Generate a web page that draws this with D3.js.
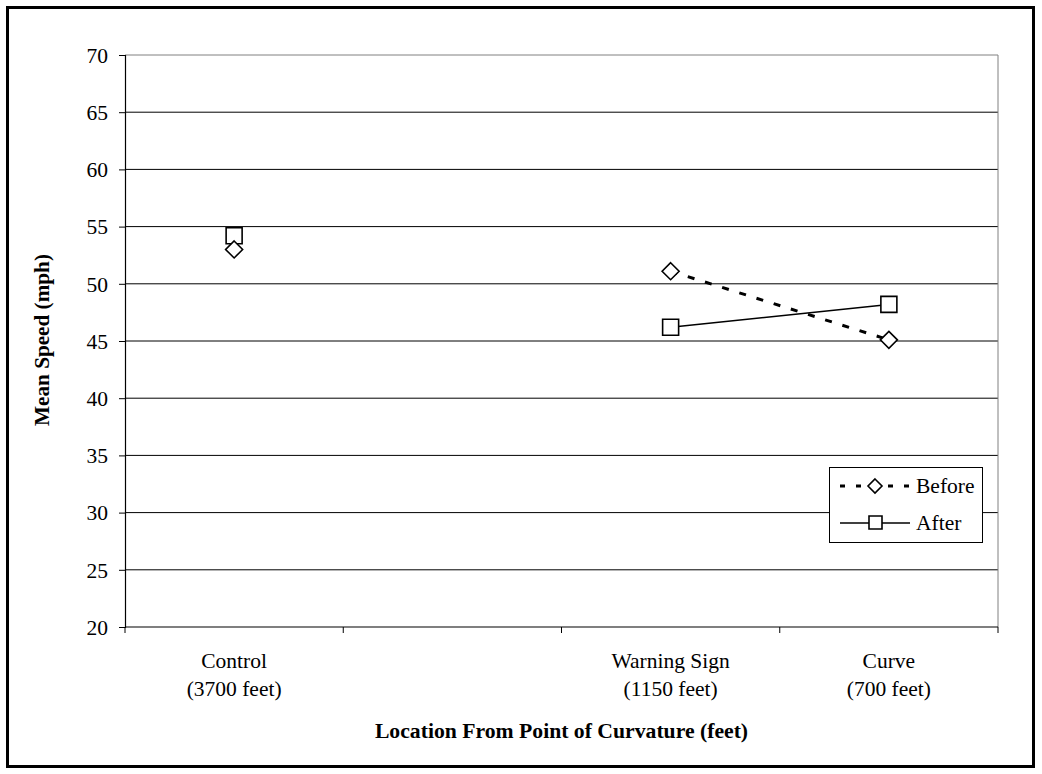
<!DOCTYPE html>
<html><head><meta charset="utf-8">
<script src="https://cdn.jsdelivr.net/npm/d3@7"></script>
<style>body{margin:0;background:#fff}</style>
</head><body>
<svg id="c" width="1042" height="774"></svg>
<script>
const categories = ["Control", "", "Warning Sign", "Curve"];
const categorySub = ["(3700 feet)", "", "(1150 feet)", "(700 feet)"];
const beforeValues = [53.0, null, 51.1, 45.1];
const afterValues = [54.2, null, 46.2, 48.2];
const yTicks = [20, 25, 30, 35, 40, 45, 50, 55, 60, 65, 70];

const svg = d3.select("#c");
const font = "Liberation Serif, Times New Roman, serif";
const FS = 21.5;
svg.append("rect").attr("x", 7.5).attr("y", 7.5).attr("width", 1026).attr("height", 759)
  .attr("fill", "#fff").attr("stroke", "#000").attr("stroke-width", 3);

const L = 125, R = 998, T = 55, B = 627;
const x = d3.scaleBand().domain(d3.range(categories.length)).range([L, R]).padding(0);
const y = d3.scaleLinear().domain([20, 70]).range([B, T]);

// gridlines
svg.append("g").selectAll("line").data(yTicks.filter(t => t > 20)).join("line")
  .attr("x1", L).attr("x2", R).attr("y1", d => y(d)).attr("y2", d => y(d))
  .attr("stroke", d => d === 70 ? "#808080" : "#000").attr("stroke-width", 1);
// right border
svg.append("line").attr("x1", R).attr("x2", R).attr("y1", T).attr("y2", B)
  .attr("stroke", "#808080").attr("stroke-width", 1);

// y axis
const ya = svg.append("g").attr("transform", `translate(${L},0)`)
  .call(d3.axisLeft(y).tickValues(yTicks).tickSize(6).tickPadding(11).tickFormat(d3.format("d")));
ya.select(".domain").attr("stroke", "#000").attr("stroke-width", 1.2);
ya.selectAll(".tick line").attr("stroke", "#000");
ya.selectAll("text").attr("font-family", font).attr("font-size", FS).attr("fill", "#000").attr("dy", "0.34em");

// x axis with ticks at band edges
const xa = svg.append("g").attr("transform", `translate(0,${B})`);
xa.append("line").attr("x1", L).attr("x2", R).attr("stroke", "#000").attr("stroke-width", 1.2);
const edges = d3.range(categories.length + 1).map(i => L + i * x.bandwidth());
xa.selectAll(".tk").data(edges).join("line").attr("class", "tk")
  .attr("x1", d => d).attr("x2", d => d).attr("y1", 0).attr("y2", 6).attr("stroke", "#000");
const lab = xa.selectAll(".lab").data(categories).join("text").attr("class", "lab")
  .attr("x", (d, i) => x(i) + x.bandwidth() / 2).attr("text-anchor", "middle")
  .attr("font-family", font).attr("font-size", FS).attr("fill", "#000");
lab.append("tspan").attr("x", (d, i) => x(i) + x.bandwidth() / 2).attr("y", 41).text(d => d);
lab.append("tspan").attr("x", (d, i) => x(i) + x.bandwidth() / 2).attr("y", 69).text((d, i) => categorySub[i]);

// axis titles
svg.append("text").attr("x", (L + R) / 2).attr("y", 738).attr("text-anchor", "middle")
  .attr("font-family", font).attr("font-size", 21.7).attr("font-weight", "bold")
  .text("Location From Point of Curvature (feet)");
svg.append("text").attr("transform", `translate(49,${(T + B) / 2 - 1}) rotate(-90)`).attr("text-anchor", "middle")
  .attr("font-family", font).attr("font-size", 21.2).attr("font-weight", "bold")
  .text("Mean Speed (mph)");

const cx = i => x(i) + x.bandwidth() / 2;
const line = d3.line().defined(d => d != null).x((d, i) => cx(i)).y(d => y(d));

svg.append("path").attr("d", line(beforeValues)).attr("fill", "none").attr("stroke", "#000")
  .attr("stroke-width", 3).attr("stroke-dasharray", "7,11");
svg.append("path").attr("d", line(afterValues)).attr("fill", "none").attr("stroke", "#000")
  .attr("stroke-width", 1.5);

const diamond = (cxp, cyp, r) => `M${cxp},${cyp - r}L${cxp + r},${cyp}L${cxp},${cyp + r}L${cxp - r},${cyp}Z`;
svg.append("g").selectAll("path").data(afterValues.map((v, i) => [v, i]).filter(d => d[0] != null)).join("path")
  .attr("d", d => { const a = cx(d[1]), b = y(d[0]); return `M${a - 8},${b - 8}h16v16h-16Z`; })
  .attr("fill", "#fff").attr("stroke", "#000").attr("stroke-width", 1.6);
svg.append("g").selectAll("path").data(beforeValues.map((v, i) => [v, i]).filter(d => d[0] != null)).join("path")
  .attr("d", d => diamond(cx(d[1]), y(d[0]), 8.5))
  .attr("fill", "#fff").attr("stroke", "#000").attr("stroke-width", 1.6);

// legend
const lg = svg.append("g");
lg.append("rect").attr("x", 829.5).attr("y", 467.5).attr("width", 153).attr("height", 75)
  .attr("fill", "#fff").attr("stroke", "#000").attr("stroke-width", 1);
lg.append("line").attr("x1", 840).attr("x2", 909).attr("y1", 486).attr("y2", 486)
  .attr("stroke", "#000").attr("stroke-width", 3).attr("stroke-dasharray", "5,11");
lg.append("path").attr("d", diamond(875, 486, 7)).attr("fill", "#fff").attr("stroke", "#000").attr("stroke-width", 1.6);
lg.append("line").attr("x1", 840).attr("x2", 910).attr("y1", 523).attr("y2", 523)
  .attr("stroke", "#000").attr("stroke-width", 1.5);
lg.append("path").attr("d", "M869,516h13v13h-13Z").attr("fill", "#fff").attr("stroke", "#000").attr("stroke-width", 1.6);
lg.append("text").attr("x", 916).attr("y", 493).attr("font-family", font).attr("font-size", FS).text("Before");
lg.append("text").attr("x", 916).attr("y", 530).attr("font-family", font).attr("font-size", FS).text("After");
</script>
</body></html>
